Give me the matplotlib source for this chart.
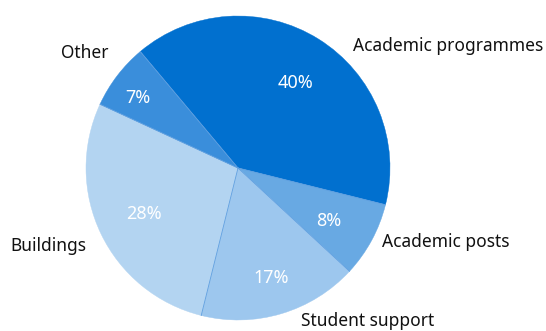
import matplotlib
matplotlib.use("Agg")
import matplotlib.pyplot as plt
import numpy as np

categories = ["Academic programmes", "Academic posts", "Student support", "Buildings", "Other"]
values = [40, 8, 17, 28, 7]
colors = ["#0170CF", "#68A9E3", "#9DC7EE", "#B3D4F1", "#3A8EDB"]

plt.rcParams["font.family"] = ["Noto Sans", "DejaVu Sans"]

W, H = 546, 331
fig = plt.figure(figsize=(W / 100, H / 100), dpi=100)
ax = fig.add_axes([0, 0, 1, 1])

cx, cy, r = 238, H - 168, 152
start = 130
wedges, texts, autotexts = ax.pie(
    values, colors=colors, startangle=start, counterclock=False,
    center=(cx, cy), radius=r, autopct="%d%%", pctdistance=0.7,
    wedgeprops=dict(linewidth=0),
    textprops=dict(color="white", fontsize=13, family=["Noto Sans", "DejaVu Sans"]),
)
for w in wedges:
    w.set_edgecolor(w.get_facecolor())
    w.set_linewidth(0.3)

# thin separators between slices
cum = np.cumsum([0] + values[:-1]) / np.sum(values)
for f in cum:
    a = np.deg2rad(start - 360 * f)
    ax.plot([cx, cx + r * np.cos(a)], [cy, cy + r * np.sin(a)], color="#5f9fe0", lw=0.6, zorder=3)

ax.set_xlim(0, W)
ax.set_ylim(0, H)
ax.set_aspect("equal")
ax.axis("off")

# percent label positions (screen pixels)
pct_pos = [(296, 83), (329, 221), (271, 278), (144, 214), (138, 98)]
for t, (px, py) in zip(autotexts, pct_pos):
    t.set_position((px, H - py))
    t.set_ha("center")
    t.set_va("center")
    t.set_zorder(5)

label_pos = [(353, 46, "left"), (382, 242, "left"), (301, 321, "left"), (86, 246, "right"), (108, 53, "right")]
for name, (px, py, ha) in zip(categories, label_pos):
    ax.text(px, H - py, name, ha=ha, va="center", fontsize=12.5, color="#111111",
            family=["Noto Sans", "DejaVu Sans"])

fig.savefig("out.png", dpi=100)
